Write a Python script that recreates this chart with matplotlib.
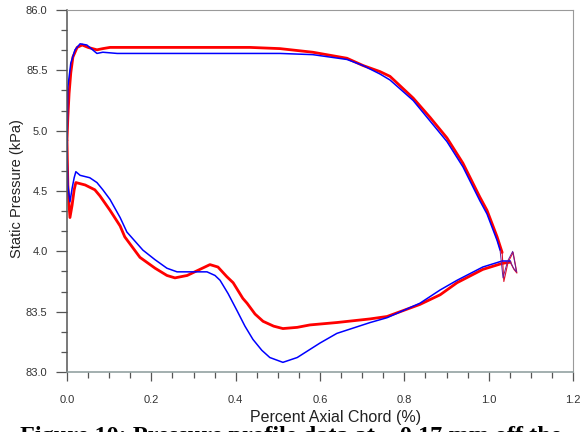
"""
plot.py

Static pressure profile around the blade, two data sets.
"""
import matplotlib
matplotlib.use('Agg')
import matplotlib.pyplot as plt
from matplotlib.ticker import MultipleLocator

################################################################################
# Data
################################################################################
# Red set, pressure side (upper branch), leading edge -> trailing edge
red_upper_x = [0.000, 0.002, 0.005, 0.009, 0.014, 0.024, 0.036, 0.050, 0.071, 0.085,
               0.102, 0.199, 0.315, 0.434, 0.505, 0.583, 0.664, 0.702, 0.742, 0.766,
               0.821, 0.861, 0.901, 0.939, 0.979, 0.996, 1.020, 1.032]
red_upper_y = [84.92, 85.11, 85.31, 85.48, 85.61, 85.69, 85.71, 85.69, 85.67, 85.68,
               85.69, 85.69, 85.69, 85.69, 85.68, 85.65, 85.60, 85.54, 85.49, 85.45,
               85.27, 85.11, 84.94, 84.73, 84.45, 84.34, 84.12, 83.99]

# Red set, suction side (lower branch)
red_lower_x = [0.000, 0.002, 0.005, 0.007, 0.012, 0.017, 0.021, 0.043, 0.066, 0.078,
               0.102, 0.126, 0.137, 0.173, 0.209, 0.237, 0.256, 0.285, 0.315, 0.339,
               0.358, 0.379, 0.394, 0.417, 0.427, 0.446, 0.465, 0.490, 0.512, 0.546,
               0.576, 0.640, 0.719, 0.759, 0.837, 0.885, 0.925, 0.986, 1.032, 1.051]
red_lower_y = [84.92, 84.55, 84.38, 84.28, 84.38, 84.51, 84.57, 84.55, 84.51, 84.46,
               84.34, 84.21, 84.12, 83.95, 83.86, 83.80, 83.78, 83.80, 83.85, 83.89,
               83.87, 83.79, 83.74, 83.61, 83.57, 83.48, 83.42, 83.38, 83.36, 83.37,
               83.39, 83.41, 83.44, 83.46, 83.56, 83.64, 83.74, 83.85, 83.90, 83.91]

# Blue set, pressure side
blue_upper_x = [0.000, 0.001, 0.002, 0.009, 0.019, 0.031, 0.047, 0.071, 0.085, 0.119,
                0.315, 0.505, 0.583, 0.664, 0.702, 0.742, 0.766, 0.821, 0.861, 0.901,
                0.939, 0.979, 0.996, 1.020, 1.027]
blue_upper_y = [84.84, 85.09, 85.36, 85.56, 85.67, 85.72, 85.71, 85.64, 85.65, 85.64,
                85.64, 85.64, 85.63, 85.59, 85.54, 85.47, 85.42, 85.25, 85.08, 84.91,
                84.70, 84.42, 84.31, 84.09, 84.01]

# Blue set, suction side
blue_lower_x = [0.000, 0.002, 0.007, 0.012, 0.017, 0.021, 0.031, 0.054, 0.071, 0.085,
                0.102, 0.126, 0.142, 0.180, 0.209, 0.237, 0.261, 0.299, 0.332, 0.351,
                0.363, 0.382, 0.403, 0.422, 0.441, 0.462, 0.481, 0.512, 0.546, 0.600,
                0.640, 0.719, 0.759, 0.837, 0.885, 0.925, 0.986, 1.032, 1.051]
blue_lower_y = [84.84, 84.55, 84.41, 84.52, 84.61, 84.66, 84.63, 84.61, 84.57, 84.51,
                84.43, 84.28, 84.16, 84.01, 83.93, 83.86, 83.83, 83.83, 83.83, 83.80,
                83.76, 83.65, 83.51, 83.38, 83.27, 83.18, 83.12, 83.08, 83.12, 83.24,
                83.32, 83.41, 83.45, 83.57, 83.68, 83.76, 83.87, 83.92, 83.92]

# Trailing edge closure (thin wiggle)
red_te_x = [1.032, 1.036, 1.046, 1.058, 1.067, 1.060, 1.051]
red_te_y = [83.99, 83.75, 83.91, 83.99, 83.82, 83.85, 83.91]
blue_te_x = [1.027, 1.034, 1.045, 1.057, 1.066, 1.059, 1.051]
blue_te_y = [84.01, 83.78, 83.92, 84.00, 83.83, 83.86, 83.92]

yticks = [83.0, 83.5, 84.0, 84.5, 85.0, 85.5, 86.0]
yticklabels = ['83.0', '83.5', '4.0', '4.5', '5.0', '85.5', '86.0']
xticks = [0.0, 0.2, 0.4, 0.6, 0.8, 1.0, 1.2]
xticklabels = ['0.0', '0.2', '0.4', '0.6', '0.8', '1.0', '1.2']

caption = 'Figure 10: Pressure profile data at ~ 0.17 mm off the'

################################################################################
# Plot
################################################################################
plt.rcParams['font.family'] = ['Liberation Sans', 'DejaVu Sans']

fig = plt.figure(figsize=(5.83, 4.32), dpi=100)
ax = fig.add_axes([67 / 583, 1 - 372 / 432, 506 / 583, 362 / 432])

# Red first, blue on top
line_kw = dict(solid_capstyle='round', solid_joinstyle='round')
ax.plot(red_upper_x, red_upper_y, color='#ff0000', lw=2.0, **line_kw)
ax.plot(red_lower_x, red_lower_y, color='#ff0000', lw=2.0, **line_kw)
ax.plot(red_te_x, red_te_y, color='#e0102a', lw=0.8, **line_kw)
ax.plot(blue_upper_x, blue_upper_y, color='#0000ff', lw=1.1, **line_kw)
ax.plot(blue_lower_x, blue_lower_y, color='#0000ff', lw=1.1, **line_kw)
ax.plot(blue_te_x, blue_te_y, color='#6a1a9a', lw=0.7, **line_kw)

# Limits and ticks
ax.set_xlim(0, 1.2)
ax.set_ylim(83, 86)
ax.set_xticks(xticks)
ax.set_xticklabels(xticklabels)
ax.set_yticks(yticks)
ax.set_yticklabels(yticklabels)
ax.xaxis.set_minor_locator(MultipleLocator(0.05))
ax.yaxis.set_minor_locator(MultipleLocator(0.5 / 3))

ax.tick_params(axis='y', which='major', direction='out', length=8, width=0.9,
               color='#555555', labelsize=8, labelcolor='#333333', pad=6)
ax.tick_params(axis='y', which='minor', direction='out', length=4, width=0.9,
               color='#555555')
ax.tick_params(axis='x', which='major', direction='out', length=6.5, width=0.9,
               color='#555555', labelsize=8, labelcolor='#333333', pad=10)
ax.tick_params(axis='x', which='minor', direction='out', length=4, width=0.9,
               color='#555555')

# Spines
ax.spines['left'].set_color('#555555')
ax.spines['left'].set_linewidth(1.1)
ax.spines['bottom'].set_color('#8a9a9a')
ax.spines['bottom'].set_linewidth(1.1)
ax.spines['top'].set_color('#9a9a9a')
ax.spines['right'].set_color('#9a9a9a')

# Labels
ax.set_xlabel('Percent Axial Chord (%)', fontsize=11.5, color='#222222')
ax.xaxis.label.set_va('center')
ax.xaxis.set_label_coords(0.53, -0.127)
ax.set_ylabel('Static Pressure (kPa)', fontsize=10.5, color='#222222')
ax.yaxis.label.set_va('center')
ax.yaxis.set_label_coords(-0.099, 0.508)

# Caption, clipped by the bottom edge like in the source page
fig.text(20 / 583, -10 / 432, caption, fontfamily='Liberation Serif',
         fontweight='bold', fontsize=17.5, va='baseline', ha='left')

fig.savefig('out.png', dpi=100)
plt.close(fig)
